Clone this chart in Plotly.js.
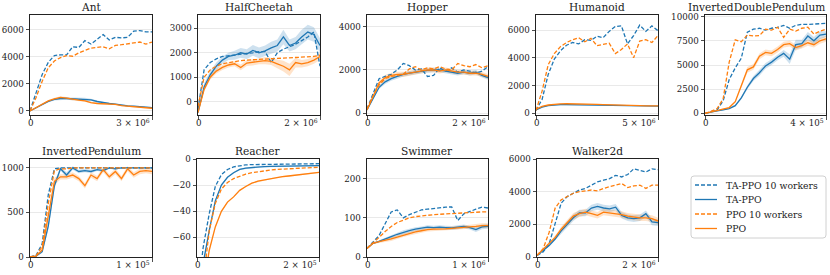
<!DOCTYPE html>
<html><head><meta charset="utf-8">
<script src="https://cdn.plot.ly/plotly-3.0.1.min.js"></script>
<style>html,body{margin:0;padding:0;background:#fff}</style>
</head><body><div id="chart" style="width:830px;height:275px"></div>
<script>
// ---------------- data ----------------
const envNames = ["Ant","HalfCheetah","Hopper","Humanoid","InvertedDoublePendulum","InvertedPendulum","Reacher","Swimmer","Walker2d"];
const xMax = [3e6, 2e6, 2e6, 5e6, 4e5, 1e5, 2e5, 1e6, 2e6];
const xMaxLabels = ["3 × 10<sup>6</sup>","2 × 10<sup>6</sup>","2 × 10<sup>6</sup>","5 × 10<sup>6</sup>","4 × 10<sup>5</sup>","1 × 10<sup>5</sup>","2 × 10<sup>5</sup>","1 × 10<sup>6</sup>","2 × 10<sup>6</sup>"];
const yRanges = [[-300,7100],[-550,3550],[-80,4540],[-120,7080],[-170,10170],[0,1100],[-75,0],[0,250],[0,6000]];
const yTickVals = [[0,2000,4000,6000],[0,1000,2000,3000],[0,2000,4000],[0,2000,4000,6000],[0,2500,5000,7500,10000],[0,500,1000],[-60,-40,-20,0],[0,100,200],[0,2000,4000,6000]];
const yTickText = [["0","2000","4000","6000"],["0","1000","2000","3000"],["0","2000","4000"],["0","2000","4000","6000"],["0","2500","5000","7500","10000"],["0","500","1000"],["−60","−40","−20","0"],["0","100","200"],["0","2000","4000","6000"]];
// fraction of training steps at which each value was read
const stepFrac = [0,0.05,0.1,0.15,0.2,0.25,0.3,0.35,0.4,0.45,0.5,0.55,0.6,0.65,0.7,0.75,0.8,0.85,0.9,0.95,1];
const seriesNames = ["TA-PPO 10 workers","TA-PPO","PPO 10 workers","PPO"];

const antTa10  = [0,1300,2700,3600,4100,4150,4150,4750,4700,5200,4950,5300,5650,5250,5450,5400,5450,5900,5950,5850,5850];
const antTa    = [0,250,500,700,850,920,920,900,880,870,820,700,600,550,500,430,380,350,320,290,250];
const antPpo10 = [0,1000,2200,3200,3700,3950,4100,4050,4300,4500,4650,4700,4750,4600,4850,4900,4950,5050,5100,4950,5100];
const antPpo   = [0,250,520,750,900,1000,950,850,800,750,620,550,520,520,480,400,350,300,250,220,200];
const antTaStd  = [0,30,50,60,80,100,100,100,120,100,80,70,60,60,50,50,40,40,40,40,40];
const antPpoStd = [0,30,50,60,80,90,90,80,80,70,60,60,50,50,50,40,40,40,40,40,40];

const hcTa10  = [-300,1300,1600,1750,1850,1880,1900,1920,1950,2000,2050,2050,1600,2000,2150,2250,2350,2500,2650,2850,1450];
const hcTa    = [-450,600,1100,1450,1700,1850,1900,2000,1950,2100,2000,2080,2200,2300,2650,2300,2400,2650,2850,2750,2300];
const hcPpo10 = [-200,1000,1300,1450,1550,1600,1650,1680,1700,1720,1740,1750,1760,1770,1780,1790,1800,1810,1820,1850,1900];
const hcPpo   = [-450,500,1000,1250,1400,1500,1550,1400,1580,1600,1650,1680,1650,1550,1450,1300,1600,1550,1600,1700,1850];
const hcTaStd  = [50,150,150,150,150,150,180,200,200,220,220,220,250,250,300,250,250,300,300,300,300];
const hcPpoStd = [50,100,100,100,100,100,100,120,120,120,120,150,150,180,220,250,200,150,150,150,150];

const hopTa10  = [200,900,1600,1700,1800,2000,2300,2200,2000,2050,1700,1750,2100,1950,2100,1900,2000,1950,1850,1950,2150];
const hopTa    = [150,700,1200,1450,1600,1700,1800,1850,1900,1950,1980,2000,2000,1950,1900,1850,1900,1850,1900,1750,1650];
const hopPpo10 = [200,800,1300,1600,1700,1750,1800,2050,2150,2000,2100,2050,2150,2050,2000,2300,2200,2150,2250,2100,2200];
const hopPpo   = [150,800,1400,1650,1750,1800,1800,1850,1900,1950,2000,2000,1950,2000,1950,1900,1900,1850,1850,1800,1700];
const hopTaStd  = [20,50,80,100,100,100,100,100,100,100,100,100,100,100,100,100,100,100,100,100,100];
const hopPpoStd = [20,60,100,120,120,120,120,120,110,110,110,110,110,110,110,110,110,110,110,110,110];

const humTa10  = [200,1000,2800,3900,4500,4900,5100,5000,5300,5250,5550,5450,5900,6250,6300,5000,5600,6350,5900,6300,5950];
const humTa    = [250,450,550,600,620,620,610,600,600,590,580,570,560,550,545,540,535,530,525,520,520];
const humPpo10 = [200,1600,3500,4300,4800,5100,5300,5450,5150,5400,4870,4950,5050,4300,4600,5000,4000,5200,5300,5100,5600];
const humPpo   = [300,500,600,650,680,690,690,680,670,660,640,620,600,590,580,570,560,550,540,535,530];
const humTaStd  = [10,20,20,20,20,20,20,20,20,20,20,20,20,20,20,20,20,20,20,20,20];
const humPpoStd = [10,20,20,20,20,20,20,20,20,20,20,20,20,20,20,20,20,20,20,20,20];

const idpTa10  = [0,150,350,1300,3500,4700,5700,8400,8700,8800,8600,8800,8900,9100,8800,9100,9200,9200,9250,9300,9300];
const idpTa    = [0,150,250,350,500,800,1600,2700,3600,4200,4900,5300,5800,6200,5600,7100,7200,8000,7500,8100,8200];
const idpPpo10 = [0,200,500,1500,5300,7600,7400,8100,8000,8050,8700,8600,8900,7850,8700,8500,8800,8900,8200,8500,8700];
const idpPpo   = [0,150,250,400,600,1200,2800,4500,4800,5900,6300,6200,6600,7100,7200,6800,7000,7300,7100,7500,7700];
const idpTaStd  = [0,20,30,40,50,80,150,200,250,300,300,300,300,350,500,500,400,400,400,400,300];
const idpPpoStd = [0,20,30,40,60,100,200,300,300,300,300,300,300,300,300,300,300,300,300,300,300];

const ipTa10  = [0,20,150,700,990,1000,1000,1000,1000,1000,1000,1000,1000,1000,1000,1000,1000,1000,1000,1000,1000];
const ipTa    = [0,10,60,350,800,990,920,1000,960,970,960,980,970,1000,990,1000,1000,1000,1000,1000,1000];
const ipPpo10 = [0,15,120,600,970,990,990,1000,1000,1000,1000,1000,1000,1000,1000,1000,1000,1000,1000,1000,1000];
const ipPpo   = [0,10,80,450,850,900,900,920,880,800,920,880,980,900,960,880,990,920,960,970,960];
const ipTaStd  = [0,5,15,40,40,20,30,20,20,20,20,15,15,10,10,5,5,5,5,5,5];
const ipPpoStd = [0,5,15,40,40,30,30,30,30,30,30,30,30,30,30,30,30,30,30,30,30];

const reTa10  = [-110,-68,-42,-21,-12,-8,-6,-5,-4.5,-4.3,-4.2,-4.1,-4,-4,-3.9,-3.9,-3.8,-3.8,-3.7,-3.7,-3.6];
const reTa    = [-120,-80,-55,-32,-20,-14,-10.5,-8,-7,-6.5,-6,-5.8,-5.6,-5.5,-5.3,-5.3,-5.2,-5.2,-5.1,-5.1,-5];
const rePpo10 = [-130,-95,-55,-34,-23,-18,-15,-13,-11.5,-10.5,-9.7,-9,-8.5,-8,-7.7,-7.4,-7.1,-6.9,-6.7,-6.5,-6.3];
const rePpo   = [-140,-100,-70,-52,-40,-33,-29,-24,-21,-18.5,-17,-16,-15,-14.2,-13.5,-13,-12.4,-11.8,-11.2,-10.8,-10.3];
const reTaStd  = [1,1,1,1,0.8,0.6,0.5,0.5,0.5,0.5,0.5,0.5,0.5,0.5,0.5,0.5,0.5,0.5,0.5,0.5,0.5];
const rePpoStd = [1,1,1,1,0.8,0.6,0.5,0.5,0.5,0.5,0.5,0.5,0.5,0.5,0.5,0.5,0.5,0.5,0.5,0.5,0.5];

const swTa10  = [22,38,55,85,115,120,100,108,115,120,122,124,125,127,128,93,110,117,122,127,125];
const swTa    = [22,35,40,45,52,58,63,67,71,73,76,75,76,75,74,76,78,75,70,77,78];
const swPpo10 = [22,35,50,65,78,88,95,100,103,105,107,108,109,110,111,112,113,114,115,115,115];
const swPpo   = [22,35,39,42,46,51,56,60,64,67,70,71,71,72,73,74,76,77,78,80,80];
const swTaStd  = [1,2,3,4,5,5,5,5,5,5,5,5,5,5,5,5,5,5,6,6,6];
const swPpoStd = [1,2,3,4,5,5,5,5,5,5,5,5,5,5,5,5,5,5,6,6,6];

const wkTa10  = [100,300,800,2100,3300,3700,3900,4100,4200,4400,4600,4700,4800,5000,4900,5050,5400,5300,5200,5400,5350];
const wkTa    = [100,400,700,1100,1600,2000,2400,2700,2700,3000,3100,3000,2950,3050,2550,2400,2350,2400,2650,2150,2100];
const wkPpo10 = [100,500,1500,3000,3500,3700,3900,4000,4050,4100,4050,4200,4300,4400,4500,4250,4350,4400,4200,4400,4400];
const wkPpo   = [100,450,800,1200,1700,2100,2500,2650,2750,2650,2550,2750,2700,2650,2600,2500,2450,2400,2400,2350,2200];
const wkTaStd  = [20,50,80,100,150,200,200,200,200,200,200,200,200,200,200,200,200,200,200,200,200];
const wkPpoStd = [20,50,80,100,150,200,200,200,200,200,200,200,200,200,200,200,200,200,200,200,200];

const envSeries = [
  [antTa10, antTa, antPpo10, antPpo, antTaStd, antPpoStd],
  [hcTa10, hcTa, hcPpo10, hcPpo, hcTaStd, hcPpoStd],
  [hopTa10, hopTa, hopPpo10, hopPpo, hopTaStd, hopPpoStd],
  [humTa10, humTa, humPpo10, humPpo, humTaStd, humPpoStd],
  [idpTa10, idpTa, idpPpo10, idpPpo, idpTaStd, idpPpoStd],
  [ipTa10, ipTa, ipPpo10, ipPpo, ipTaStd, ipPpoStd],
  [reTa10, reTa, rePpo10, rePpo, reTaStd, rePpoStd],
  [swTa10, swTa, swPpo10, swPpo, swTaStd, swPpoStd],
  [wkTa10, wkTa, wkPpo10, wkPpo, wkTaStd, wkPpoStd]
];

// ---------------- layout ----------------
const W = 830, H = 275;
const boxes = [ // [left, right, top, bottom] in px
  [30,152,15,115],[198,320,15,115],[367,488,15,115],[536,658,15,115],[705,826,15,115],
  [30,152,159,257],[197,319,159,257],[367,488,159,257],[537,658,159,257]
];
const BLUE = "#1f77b4", ORANGE = "#ff7f0e";
const BLUE_F = "rgba(31,119,180,0.22)", ORANGE_F = "rgba(255,127,14,0.22)";
const FONT = "DejaVu Serif";
const INK = "#222";
const DASH = "4px,2px";
const TICK_SIZE = 8.7, TITLE_SIZE = 10.6, LEGEND_SIZE = 9.3;

const traces = [];
const layout = {
  width: W, height: H, margin: {l:0,r:0,t:0,b:0},
  paper_bgcolor: "#fff", plot_bgcolor: "#fff",
  font: {family: FONT, size: TICK_SIZE, color: INK},
  showlegend: false,
  annotations: [], shapes: []
};
const px = v => v / W, py = v => 1 - v / H;

envNames.forEach((name, i) => {
  const [l, r, t, b] = boxes[i];
  const ax = i + 1, ax2 = i + 10;
  const xd = [l/W, r/W], yd = [1-b/H, 1-t/H];
  const xs = stepFrac.map(f => f * xMax[i]);
  const xref = "x" + ax, xref2 = "x" + ax2, yref = "y" + ax;
  const [ta10, ta, ppo10, ppo, taStd, ppoStd] = envSeries[i];

  const band = (vals, std, color) => ({
    x: xs.concat(xs.slice().reverse()),
    y: vals.map((v,k)=>v+std[k]).concat(vals.map((v,k)=>v-std[k]).reverse()),
    xaxis: xref, yaxis: yref, type: "scatter", mode: "lines", fill: "toself",
    fillcolor: color, line: {width: 0}, hoverinfo: "skip", showlegend: false
  });
  traces.push(band(ta, taStd, BLUE_F));
  traces.push(band(ppo, ppoStd, ORANGE_F));

  const line = (vals, color, dash, k) => ({
    x: xs, y: vals, xaxis: xref2, yaxis: yref, type: "scatter", mode: "lines",
    name: seriesNames[k], showlegend: false,
    line: {color: color, width: 1.3, dash: dash}
  });
  traces.push(line(ta10, BLUE, DASH, 0));
  traces.push(line(ta, BLUE, "solid", 1));
  traces.push(line(ppo10, ORANGE, DASH, 2));
  traces.push(line(ppo, ORANGE, "solid", 3));

  const tf = {family: FONT, size: TICK_SIZE, color: INK};
  layout["xaxis" + ax] = {
    domain: xd, anchor: yref, range: [0, xMax[i]], showgrid: false,
    showline: true, mirror: true, linecolor: INK, linewidth: 1,
    ticks: "outside", ticklen: 3.5, tickwidth: 0.8, tickcolor: INK, zeroline: false,
    tickmode: "array", tickvals: [0], ticktext: ["0"],
    ticklabelposition: "outside right", ticklabelshift: -3, tickfont: tf, fixedrange: true
  };
  layout["xaxis" + ax2] = {
    domain: xd, anchor: yref, overlaying: xref, range: [0, xMax[i]],
    showgrid: false, showline: false, zeroline: false,
    ticks: "outside", ticklen: 3.5, tickwidth: 0.8, tickcolor: INK,
    tickmode: "array", tickvals: [xMax[i]], ticktext: [xMaxLabels[i]],
    ticklabelposition: "outside left", ticklabelshift: -2, tickfont: tf, fixedrange: true
  };
  layout["yaxis" + ax] = {
    domain: yd, anchor: xref, range: yRanges[i], showgrid: true,
    gridcolor: "#e3e3e3", gridwidth: 0.8,
    showline: true, mirror: true, linecolor: INK, linewidth: 1,
    ticks: "outside", ticklen: 3.5, tickwidth: 0.8, tickcolor: INK, zeroline: false,
    tickmode: "array", tickvals: yTickVals[i], ticktext: yTickText[i],
    tickfont: tf, fixedrange: true
  };
  // a title wider than its panel is kept inside the figure by right-aligning it
  const wide = name.length > 18 && r > 800;
  layout.annotations.push({
    text: name, xref: "paper", yref: "paper",
    x: wide ? px(827) : (xd[0]+xd[1])/2, y: yd[1],
    xanchor: wide ? "right" : "center", yanchor: "bottom", yshift: 0, showarrow: false,
    font: {family: FONT, size: TITLE_SIZE, color: INK}
  });
});

// ---------------- legend (drawn as figure-level box) ----------------
const LG = {l: 691, r: 826, t: 176, b: 238, rad: 3};
layout.shapes.push({
  type: "path", xref: "paper", yref: "paper",
  path: `M ${px(LG.l+LG.rad)} ${py(LG.t)} L ${px(LG.r-LG.rad)} ${py(LG.t)} Q ${px(LG.r)} ${py(LG.t)} ${px(LG.r)} ${py(LG.t+LG.rad)} ` +
        `L ${px(LG.r)} ${py(LG.b-LG.rad)} Q ${px(LG.r)} ${py(LG.b)} ${px(LG.r-LG.rad)} ${py(LG.b)} ` +
        `L ${px(LG.l+LG.rad)} ${py(LG.b)} Q ${px(LG.l)} ${py(LG.b)} ${px(LG.l)} ${py(LG.b-LG.rad)} ` +
        `L ${px(LG.l)} ${py(LG.t+LG.rad)} Q ${px(LG.l)} ${py(LG.t)} ${px(LG.l+LG.rad)} ${py(LG.t)} Z`,
  line: {color: "#d0d0d0", width: 1}, fillcolor: "rgba(255,255,255,0.8)", layer: "above"
});
const legendColors = [BLUE, BLUE, ORANGE, ORANGE];
const legendDash = [DASH, "solid", DASH, "solid"];
const legendRowY = [185, 199.5, 214, 228.5];
seriesNames.forEach((s, k) => {
  layout.shapes.push({
    type: "line", xref: "paper", yref: "paper",
    x0: px(695), x1: px(717), y0: py(legendRowY[k]), y1: py(legendRowY[k]),
    line: {color: legendColors[k], width: 1.3, dash: legendDash[k]}, layer: "above"
  });
  layout.annotations.push({
    text: s, xref: "paper", yref: "paper", x: px(724), y: py(legendRowY[k]),
    xanchor: "left", yanchor: "middle", showarrow: false,
    font: {family: FONT, size: LEGEND_SIZE, color: INK}
  });
});

Plotly.newPlot("chart", traces, layout, {displayModeBar: false, staticPlot: true});
</script>
</body></html>
